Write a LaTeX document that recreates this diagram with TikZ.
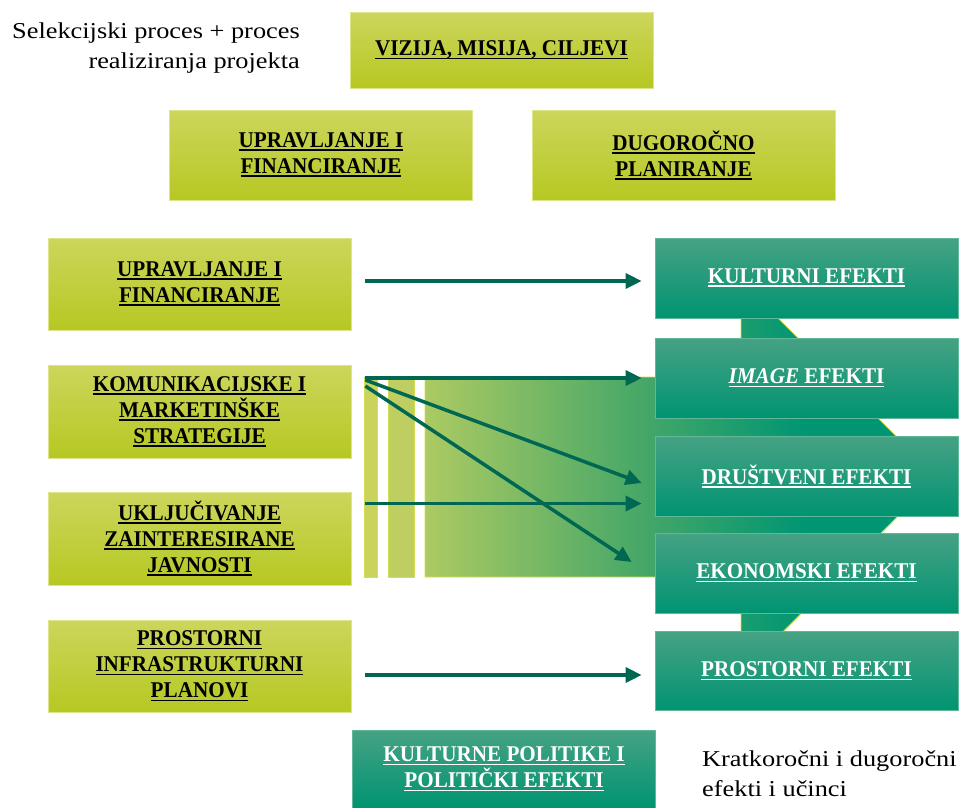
\documentclass[tikz,border=0pt]{standalone}
\usepackage{fontspec}
\setmainfont{Liberation Serif}
\newfontfamily\boxfont{Liberation Serif}[FakeStretch=0.94]
\newfontfamily\notefont{Liberation Serif}[FakeStretch=1.16]
\usetikzlibrary{arrows.meta,calc}

\definecolor{limetop}{RGB}{204,214,92}
\definecolor{limebot}{RGB}{182,200,34}
\definecolor{limeedge}{RGB}{222,228,140}
\definecolor{tealtop}{RGB}{70,162,132}
\definecolor{tealbot}{RGB}{0,148,114}
\definecolor{tealedge}{RGB}{96,184,152}
\definecolor{shaftleft}{RGB}{172,202,98}
\definecolor{shaftmid}{RGB}{66,166,104}
\definecolor{shaftright}{RGB}{0,150,115}
\definecolor{edgeyel}{RGB}{212,220,80}
\definecolor{barone}{RGB}{202,212,92}
\definecolor{bartwo}{RGB}{190,206,96}
\definecolor{arrowcol}{RGB}{0,104,82}

\pgfdeclarehorizontalshading{shaftshade}{100bp}{color(0bp)=(shaftleft); color(25bp)=(shaftleft);
  color(47bp)=(shaftmid); color(62bp)=(shaftright); color(100bp)=(shaftright)}

\newsavebox{\ulbox}
\newcommand{\undl}[1]{\sbox{\ulbox}{#1}\rlap{\rule[-3.5pt]{\wd\ulbox}{1.7pt}}\usebox{\ulbox}}

\begin{document}
\begin{tikzpicture}[x=1pt,y=-1pt,
  box/.style={rectangle, minimum width=303pt, inner sep=0pt, align=center,
    line width=0.7pt, font=\boxfont\bfseries\fontsize{22.5}{26}\selectfont},
  lime/.style={box, top color=limetop, bottom color=limebot, draw=limeedge},
  teal/.style={box, top color=tealtop, bottom color=tealbot, draw=tealedge, text=white},
  note/.style={inner sep=0pt, font=\notefont\fontsize{22.7}{30}\selectfont},
  conn/.style={draw=arrowcol, line width=3.5pt, -{Triangle[length=16pt,width=15pt]}}]
\useasboundingbox (0,0) rectangle (962,807);

% background arrow
\shade[shading=shaftshade, draw=edgeyel, line width=0.8pt]
  (425,377) -- (741,377) -- (741,281) -- (937,477) -- (741,674) -- (741,577) -- (425,577) -- cycle;
\filldraw[fill=barone, draw=edgeyel, line width=0.8pt] (364,377) rectangle (377,577);
\filldraw[fill=bartwo, draw=edgeyel, line width=0.8pt] (388,377) rectangle (414,577);

\node[note, anchor=east, align=right] (sel) at (300,48) {Selekcijski proces + proces\\realiziranja projekta};
\node[lime, minimum height=76pt] (viz) at (501.5,50) {\undl{VIZIJA, MISIJA, CILJEVI}};
\node[lime, minimum height=90pt] (tup) at (321,155) {\undl{UPRAVLJANJE I}\\\undl{FINANCIRANJE}};
\node[lime, minimum height=90pt] (dug) at (683.5,155) {\undl{DUGOROČNO}\\\undl{PLANIRANJE}};

\node[lime, minimum height=92pt] (lup) at (199.5,284) {\undl{UPRAVLJANJE I}\\\undl{FINANCIRANJE}};
\node[lime, minimum height=93pt] (kom) at (199.5,411.5) {\undl{KOMUNIKACIJSKE I}\\\undl{MARKETINŠKE}\\\undl{STRATEGIJE}};
\node[lime, minimum height=93pt] (ukl) at (199.5,538.5) {\undl{UKLJUČIVANJE}\\\undl{ZAINTERESIRANE}\\\undl{JAVNOSTI}};
\node[lime, minimum height=92pt] (pro) at (199.5,666) {\undl{PROSTORNI}\\\undl{INFRASTRUKTURNI}\\\undl{PLANOVI}};

\node[teal, minimum height=80pt] (kult) at (806.5,278) {\undl{KULTURNI EFEKTI}};
\node[teal, minimum height=80pt] (img) at (806.5,378) {\undl{\textit{IMAGE} EFEKTI}};
\node[teal, minimum height=80pt] (drus) at (806.5,476) {\undl{DRUŠTVENI EFEKTI}};
\node[teal, minimum height=80pt] (eko) at (806.5,573) {\undl{EKONOMSKI EFEKTI}};
\node[teal, minimum height=79pt] (pef) at (806.5,671) {\undl{PROSTORNI EFEKTI}};

\node[teal, minimum height=78pt] (pol) at (504,769) {\undl{KULTURNE POLITIKE I}\\\undl{POLITIČKI EFEKTI}};
\node[note, anchor=west, align=left] (kra) at (702,774) {Kratkoročni i dugoročni\\efekti i učinci};

\draw[conn] ($(lup.east)+(14,-3)$) -- ($(lup.east -| kult.west)+(-13,-3)$);
\draw[conn] ($(kom.east |- img.west)+(14,0)$) -- ($(img.west)+(-13,0)$);
\draw[conn] ($(kom.east |- img.west)+(14,2)$) -- ($(drus.west)+(-13,7)$);
\draw[conn] ($(kom.east |- img.west)+(14,8)$) -- ($(eko.west)+(-23,-11)$);
\draw[conn] ($(ukl.east)+(14,-35)$) -- ($(ukl.east -| drus.west)+(-13,-35)$);
\draw[conn] ($(pro.east)+(14,9)$) -- ($(pro.east -| pef.west)+(-13,9)$);
\end{tikzpicture}
\end{document}
